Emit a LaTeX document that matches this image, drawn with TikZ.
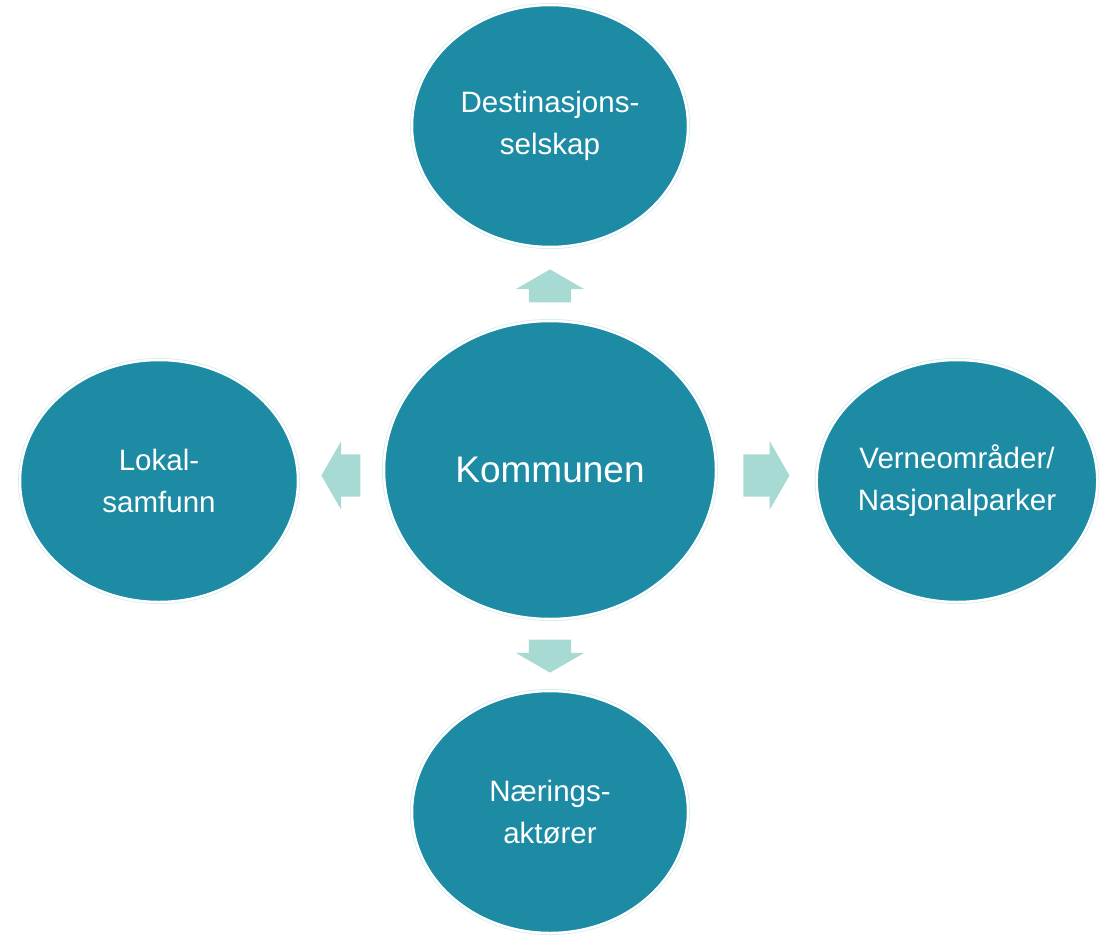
\documentclass[tikz,border=0pt]{standalone}
\usepackage{fontspec}
\setmainfont{Liberation Sans}
\usetikzlibrary{shapes.geometric,shapes.arrows,calc}
\definecolor{kfill}{HTML}{1C8BA3}
\definecolor{kline}{HTML}{D2ECEE}
\definecolor{karrow}{HTML}{A7DAD2}
\tikzstyle{every picture}+=[x=1pt,y=-1pt]
\tikzset{
  aktor/.style={ellipse, fill=kfill, draw=white, line width=2.5pt,
    preaction={draw=kline, line width=4pt}, inner sep=0pt,
    text=white, align=center, font=\fontsize{29.5}{42}\selectfont},
  blokkpil/.style={single arrow, fill=karrow, draw=none,
    inner xsep=0pt, inner ysep=21pt, single arrow head extend=13pt,
    single arrow tip angle=120},
}

\begin{document}
\begin{tikzpicture}
    \useasboundingbox (0,0) rectangle (1102,936);
    % sentrum
    \node[aktor, minimum width=332pt, minimum height=298pt,
      font=\fontsize{37}{44}\selectfont] (kom) at (550,470) {Kommunen};
    % rundt
    \node[aktor, minimum width=276pt, minimum height=242pt] (dest) at (550,126)
      {Destinasjons-\\selskap};
    \node[aktor, minimum width=278pt, minimum height=242pt] (lokal) at (159,481)
      {Lokal-\\samfunn};
    \node[aktor, minimum width=278pt, minimum height=242pt] (verne) at (957,481)
      {Verneområder/\\Nasjonalparker};
    \node[aktor, minimum width=276pt, minimum height=242pt] (naer) at (550,812)
      {Nærings-\\aktører};
    % piler
    \node[blokkpil, minimum height=33pt, rotate=90]
      (p1) at ($(kom.north)!0.5!(dest.south)+(0,8)$) {};
    \node[blokkpil, minimum height=33pt, rotate=-90]
      (p2) at ($(kom.south)!0.5!(naer.north)+(0,-5)$) {};
    \node[blokkpil, minimum height=46pt]
      (p3) at ($(kom.east)!0.5!(verne.west)+(-6,0)$) {};
    \node[blokkpil, minimum height=39pt, rotate=180]
      (p4) at ($(kom.west)!0.5!(lokal.east)+(6,0)$) {};
\end{tikzpicture}
\end{document}
